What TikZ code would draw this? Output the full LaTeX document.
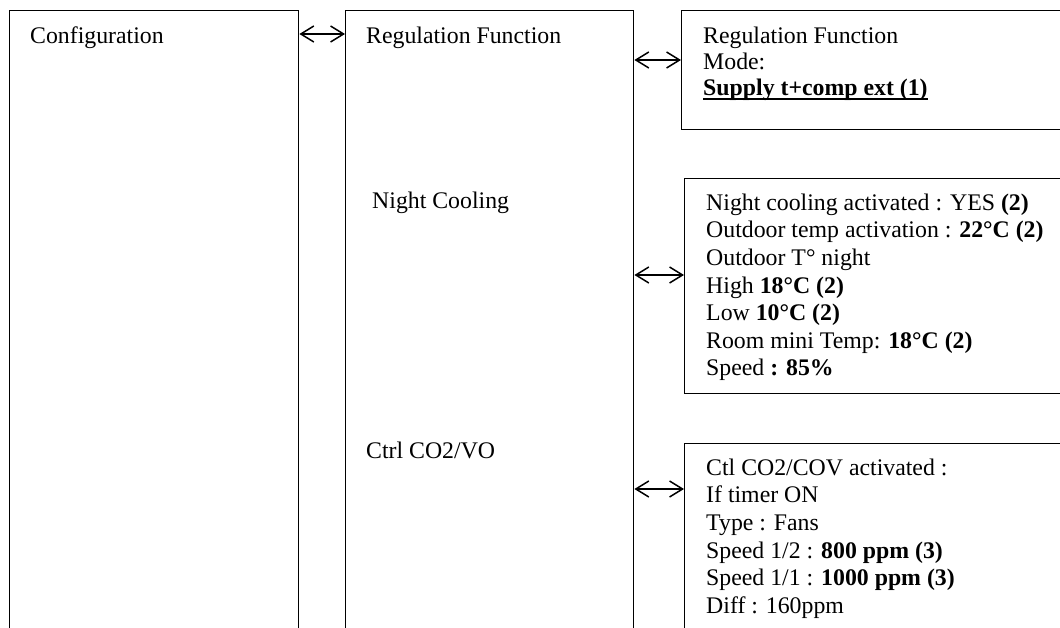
\documentclass[tikz,border=0pt]{standalone}
\usepackage{fontspec}
\setmainfont{Liberation Serif}
\usetikzlibrary{arrows.meta}
\newcommand\myul[1]{\setbox0\hbox{#1}\rlap{\rule[-4.5pt]{\wd0}{1.8pt}}\box0}
\begin{document}
\begin{tikzpicture}[x=1pt,y=-1pt,
  box/.style={draw=black,line width=1.4pt,rectangle,anchor=north west,inner sep=0pt},
  txt/.style={anchor=north west,inner sep=0pt,align=left,font=\fontsize{23.8}{27.6}\selectfont},
  conn/.style={line width=1.5pt,{Straight Barb[length=13pt,width=16pt]}-{Straight Barb[length=13pt,width=16pt]}}]
\useasboundingbox (0,0) rectangle (1060,628);
\clip (0,0) rectangle (1060,628);
\fill[white] (0,0) rectangle (1060,628);
% boxes
\node[box,minimum width=289pt,minimum height=650pt] (config) at (9,10) {};
\node[box,minimum width=288pt,minimum height=650pt] (reg) at (345,10) {};
\node[box,minimum width=420pt,minimum height=119pt] (mode) at (681,10) {};
\node[box,minimum width=420pt,minimum height=215pt] (night) at (684,178) {};
\node[box,minimum width=420pt,minimum height=300pt] (co2) at (684,443) {};
% texts
\node[txt] (configt) at (30,23.7) {\strut Configuration};
\node[txt] (regt) at (366,23.7) {\strut Regulation Function};
\node[txt] (nightt) at (372,188.7) {\strut Night Cooling};
\node[txt] (co2t) at (366,438.7) {\strut Ctrl CO2/VO};
\node[txt,font=\fontsize{23.8}{26}\selectfont] (modet) at (703,24.8) {\strut Regulation Function\\Mode:\\\textbf{\myul{Supply t+comp ext (1)}}};
\node[txt] (nightx) at (706,190.7) {\strut Night cooling activated : YES \textbf{(2)}\\
Outdoor temp activation : \textbf{22°C (2)}\\
Outdoor T° night\\
High \textbf{18°C (2)}\\
Low \textbf{10°C (2)}\\
Room mini Temp: \textbf{18°C (2)}\\
Speed \textbf{: 85\%}};
\node[txt] (co2x) at (706,455.7) {\strut Ctl CO2/COV activated :\\
If timer ON\\
Type : Fans\\
Speed 1/2 : \textbf{800 ppm (3)}\\
Speed 1/1 : \textbf{1000 ppm (3)}\\
Diff : 160ppm};
% connectors
\draw[conn] (config.east |- 0,34) -- (reg.west |- 0,34);
\draw[conn] (reg.east |- 0,60) -- (mode.west |- 0,60);
\draw[conn] (reg.east |- 0,275) -- (night.west |- 0,275);
\draw[conn] (reg.east |- 0,489) -- (co2.west |- 0,489);
\end{tikzpicture}
\end{document}
